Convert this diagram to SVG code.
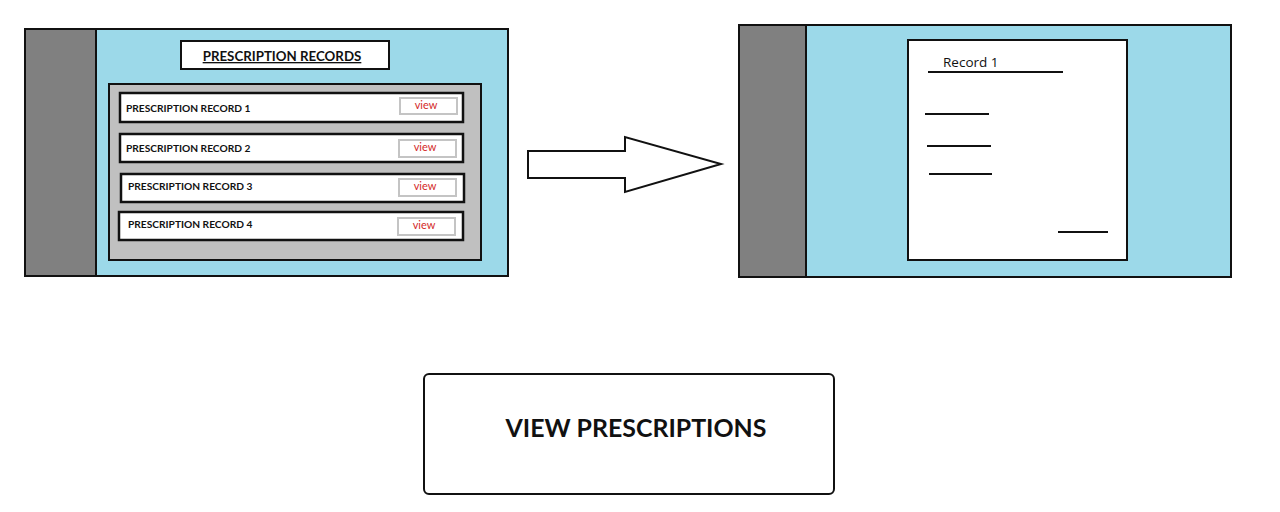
<svg xmlns="http://www.w3.org/2000/svg" width="1280" height="512" viewBox="0 0 1280 512">
<style>
.panel{fill:#9cd9e9;stroke:#111;stroke-width:2}
.side{fill:#808080;stroke:#111;stroke-width:2}
.white{fill:#fff;stroke:#111;stroke-width:2}
.row{fill:#fff;stroke:#111;stroke-width:2.5}
.vbtn{fill:#fff;stroke:#c4c4c4;stroke-width:2}
.lbl{font-family:Lato,"Liberation Sans",sans-serif;font-weight:bold;font-size:10.2px;fill:#111}
.view{font-family:Lato,"Liberation Sans",sans-serif;font-size:11px;fill:#d42a2a;text-anchor:middle}
.ln{stroke:#111;stroke-width:2}
</style>
<rect width="1280" height="512" fill="#fff"/>
<g id="list-screen">
<rect class="panel" x="25" y="29" width="483" height="247"/>
<rect class="side" x="25" y="29" width="71" height="247"/>
<rect class="white" x="181" y="41" width="208" height="28"/>
<text x="282" y="61" text-anchor="middle" font-family="Lato,'Liberation Sans',sans-serif" font-weight="bold" font-size="13.3" fill="#111" text-decoration="underline">PRESCRIPTION RECORDS</text>
<rect x="109" y="84" width="372" height="176" fill="#c0c0c0" stroke="#111" stroke-width="2"/>
<g id="row1">
<rect class="row" x="120" y="93" width="343" height="29"/>
<text class="lbl" x="126" y="112">PRESCRIPTION RECORD 1</text>
<rect class="vbtn" x="400" y="98" width="57" height="16"/>
<text class="view" x="426" y="108.5">view</text>
</g>
<g id="row2">
<rect class="row" x="120" y="134" width="343" height="28"/>
<text class="lbl" x="126" y="152">PRESCRIPTION RECORD 2</text>
<rect class="vbtn" x="399" y="140" width="57" height="17"/>
<text class="view" x="425" y="151">view</text>
</g>
<g id="row3">
<rect class="row" x="121" y="174" width="343" height="28"/>
<text class="lbl" x="128" y="190">PRESCRIPTION RECORD 3</text>
<rect class="vbtn" x="399" y="179" width="57" height="17"/>
<text class="view" x="425" y="189.5">view</text>
</g>
<g id="row4">
<rect class="row" x="119" y="212" width="344" height="28"/>
<text class="lbl" x="128" y="228">PRESCRIPTION RECORD 4</text>
<rect class="vbtn" x="398" y="218" width="57" height="17"/>
<text class="view" x="424" y="228.5">view</text>
</g>
</g>
<g id="connectors">
<polygon points="528,151 625,151 625,137 721,164 625,192 625,178 528,178" fill="#fff" stroke="#111" stroke-width="2" stroke-linejoin="miter"/>
</g>
<g id="detail-screen">
<rect class="panel" x="739" y="25" width="492" height="252"/>
<rect class="side" x="739" y="25" width="67" height="252"/>
<rect class="white" x="908" y="40" width="219" height="220"/>
<text x="943" y="67" font-family="'Open Sans','Liberation Sans',sans-serif" font-size="13.5" fill="#111">Record 1</text>
<line class="ln" x1="928" y1="72" x2="1063" y2="72"/>
<line class="ln" x1="925" y1="114" x2="989" y2="114"/>
<line class="ln" x1="927" y1="146" x2="991" y2="146"/>
<line class="ln" x1="929" y1="174" x2="992" y2="174"/>
<line class="ln" x1="1058" y1="232" x2="1108" y2="232"/>
</g>
<g id="title">
<rect x="424" y="374" width="410" height="120" rx="5" fill="#fff" stroke="#111" stroke-width="2"/>
<text x="636" y="437" text-anchor="middle" font-family="Lato,'Liberation Sans',sans-serif" font-weight="bold" font-size="24.9" fill="#111">VIEW PRESCRIPTIONS</text>
</g>
</svg>
